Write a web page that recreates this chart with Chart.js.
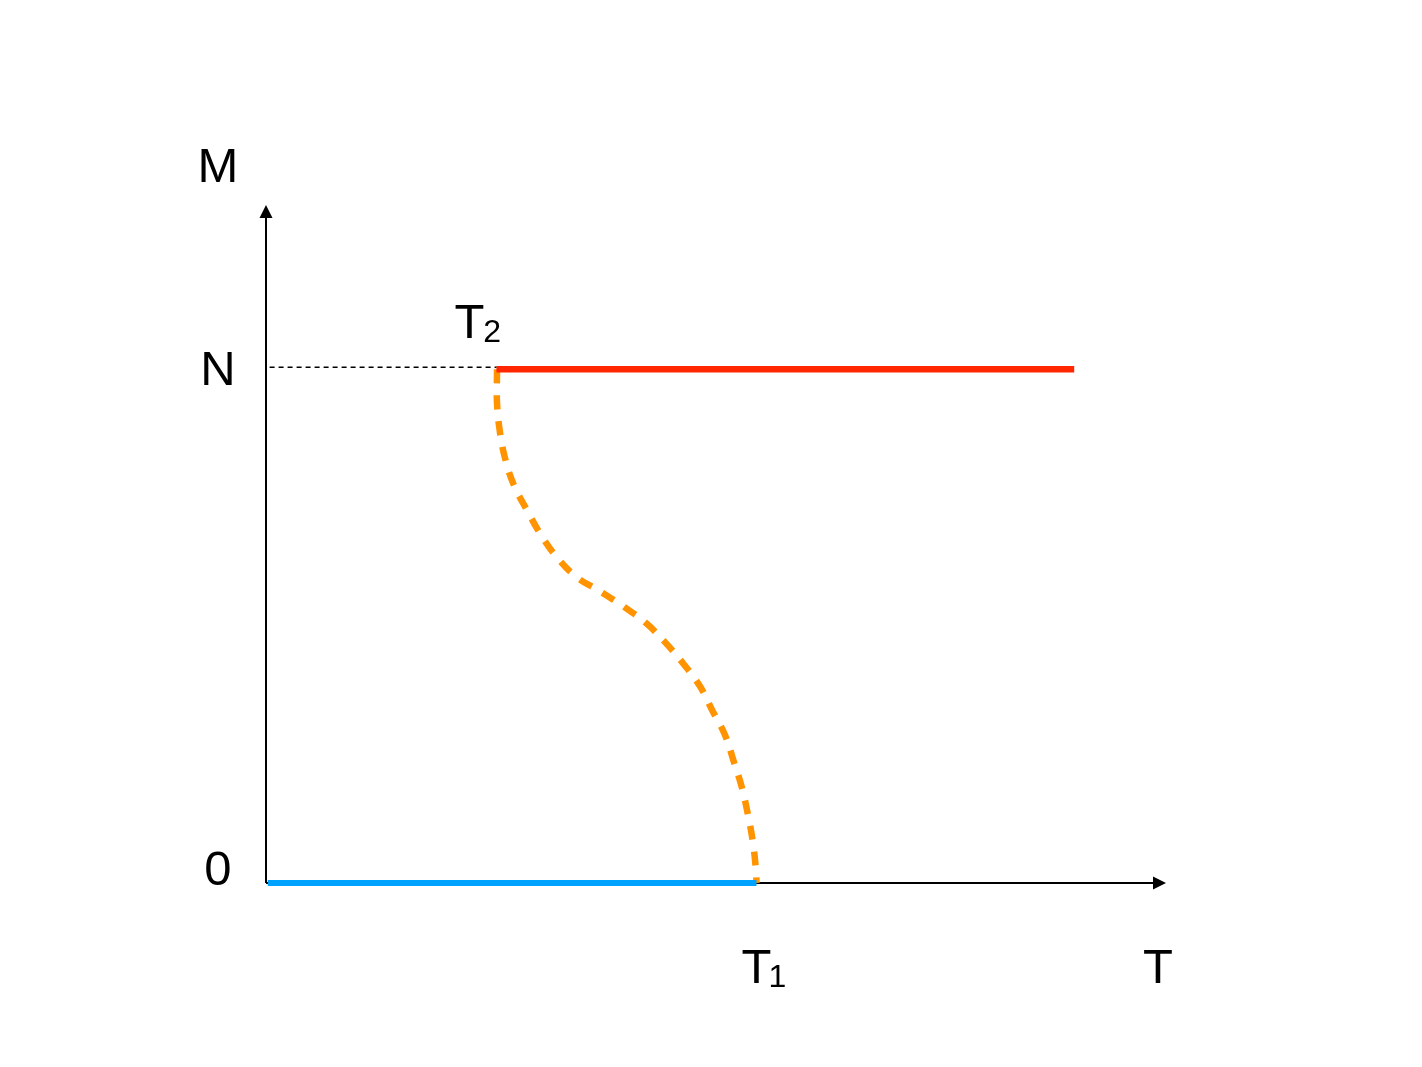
<!DOCTYPE html>
<html>
<head>
<meta charset="utf-8">
<script src="https://cdn.jsdelivr.net/npm/chart.js@4"></script>
<style>
  html, body { margin: 0; padding: 0; background: #fff; }
  #wrap { width: 1422px; height: 1067px; position: relative; }
</style>
</head>
<body>
<div id="wrap"><canvas id="phase_chart"></canvas></div>
<script>
// critical temperatures (T axis units) and levels (M in units of N)
const T1 = 54.5;
const T2 = 25.6;
const T_END = 89.8;
const X_MAX = 100;
const Y_MAX = 1.32;

// labels
const yLabels = ['M', 'N', '0'];
const xLabels = ['T', 'T', 'T'];
const xSubs = ['', '1', '2'];

// dashed transition curve
const curveT = [25.67, 25.67, 26.0, 26.56, 27.56, 29.0, 30.44, 32.33, 34.56, 37.11, 39.67, 42.22,
  44.33, 46.33, 48.22, 49.56, 51.0, 52.0, 52.89, 53.56, 54.11, 54.44, 54.5];
const curveM = [1.0, 0.934, 0.877, 0.827, 0.774, 0.726, 0.681, 0.634, 0.595, 0.568, 0.539, 0.506,
  0.469, 0.428, 0.383, 0.337, 0.288, 0.235, 0.185, 0.132, 0.078, 0.025, 0.0];

const curve = curveT.map((t, i) => ({ x: t, y: curveM[i] }));

const FONT = "'Liberation Sans', Arial, sans-serif";

// axes with arrowheads + text labels
const axesPlugin = {
  id: 'axesPlugin',
  beforeDatasetsDraw(chart) {
    const { ctx, scales: { x, y } } = chart;
    const x0 = x.getPixelForValue(0), y0 = y.getPixelForValue(0);
    const xEnd = x.getPixelForValue(X_MAX), yEnd = y.getPixelForValue(Y_MAX);
    ctx.save();
    ctx.strokeStyle = '#000';
    ctx.fillStyle = '#000';
    ctx.lineWidth = 2;
    ctx.beginPath();
    ctx.moveTo(x0, y0);
    ctx.lineTo(xEnd - 10, y0);
    ctx.moveTo(x0, y0);
    ctx.lineTo(x0, yEnd + 10);
    ctx.stroke();
    // arrow heads
    ctx.beginPath();
    ctx.moveTo(xEnd, y0);
    ctx.lineTo(xEnd - 13, y0 - 6.5);
    ctx.lineTo(xEnd - 13, y0 + 6.5);
    ctx.closePath();
    ctx.fill();
    ctx.beginPath();
    ctx.moveTo(x0, yEnd);
    ctx.lineTo(x0 - 6.5, yEnd + 13);
    ctx.lineTo(x0 + 6.5, yEnd + 13);
    ctx.closePath();
    ctx.fill();
    ctx.restore();
  },
  afterDraw(chart) {
    const { ctx, scales: { x, y } } = chart;
    ctx.save();
    ctx.fillStyle = '#000';
    ctx.textBaseline = 'alphabetic';
    ctx.font = '49px ' + FONT;
    ctx.textAlign = 'center';
    // y side labels
    ctx.fillText(yLabels[0], 218, 182);
    ctx.fillText(yLabels[1], 218, y.getPixelForValue(1) + 16);
    ctx.fillText(yLabels[2], 218, y.getPixelForValue(0) + 2);
    // x side labels
    ctx.textAlign = 'left';
    const lbl = [
      { t: X_MAX, bx: 1143, by: 983, dx: 0 },
      { t: T1, bx: x.getPixelForValue(T1) - 15, by: 983, dx: -3 },
      { t: T2, bx: x.getPixelForValue(T2) - 42, by: 338, dx: -1 }
    ];
    lbl.forEach((l, i) => {
      ctx.font = '49px ' + FONT;
      ctx.fillText(xLabels[i], l.bx, l.by);
      if (xSubs[i]) {
        const w = ctx.measureText(xLabels[i]).width;
        ctx.font = '32px ' + FONT;
        ctx.fillText(xSubs[i], l.bx + w + l.dx, l.by + 4);
      }
    });
    ctx.restore();
  }
};

const ctxP = document.getElementById('phase_chart').getContext('2d');

const cfg = {
  type: 'line',
  data: {
    datasets: [
      {
        // dotted guide at M = N
        data: [{ x: 0.4, y: 1.004 }, { x: T2, y: 1.004 }],
        borderColor: '#000',
        borderWidth: 1.6,
        borderDash: [5, 4],
        pointRadius: 0,
        clip: false
      },
      {
        data: [{ x: T2, y: 1 }, { x: T_END, y: 1 }],
        borderColor: '#FF2600',
        borderWidth: 6.5,
        pointRadius: 0,
        clip: false
      },
      {
        data: [{ x: 0.2, y: 0 }, { x: T1, y: 0 }],
        borderColor: '#00A2FF',
        borderWidth: 6,
        pointRadius: 0,
        clip: false
      },
      {
        data: curve,
        borderColor: '#FF9300',
        borderWidth: 6.5,
        borderDash: [14, 12],
        tension: 0.4,
        pointRadius: 0,
        clip: false
      }
    ]
  },
  options: {
    responsive: true,
    maintainAspectRatio: false,
    animation: false,
    layout: {
      padding: { left: 266, right: 256, top: 205, bottom: 184 }
    },
    plugins: {
      legend: { display: false },
      tooltip: { enabled: false }
    },
    scales: {
      x: { type: 'linear', min: 0, max: X_MAX, display: false },
      y: { type: 'linear', min: 0, max: Y_MAX, display: false }
    }
  },
  plugins: [axesPlugin]
};

const phase_chart = new Chart(ctxP, cfg);
</script>
</body>
</html>
